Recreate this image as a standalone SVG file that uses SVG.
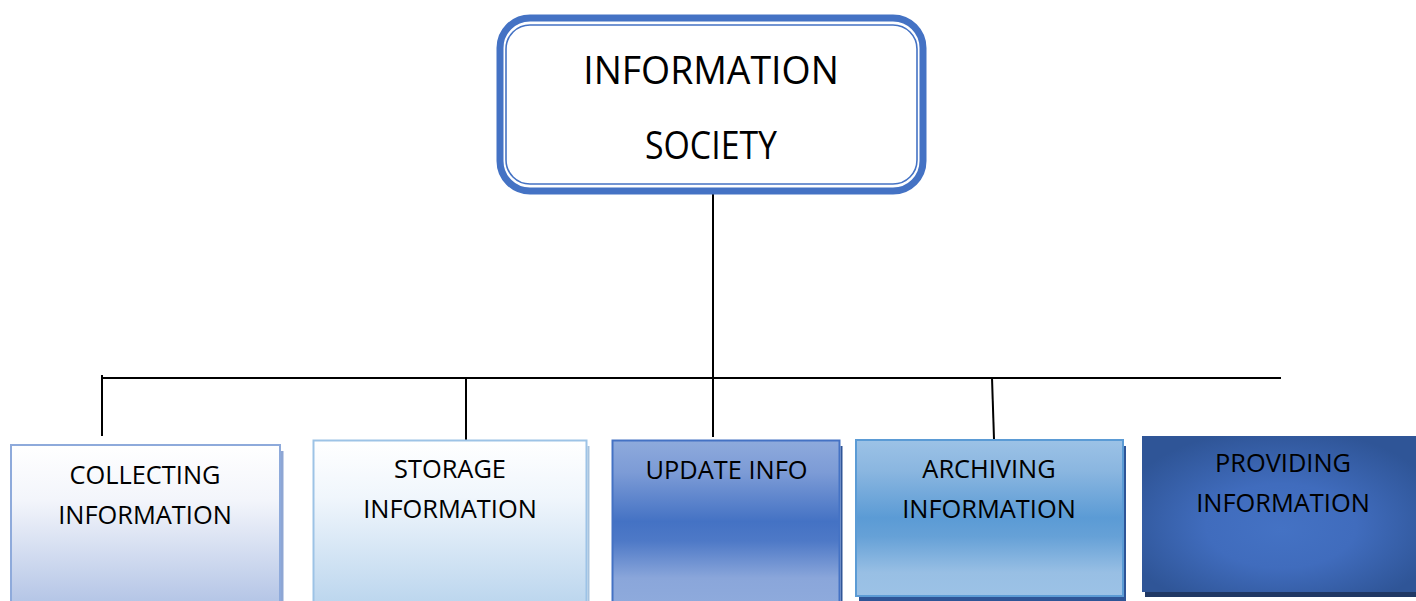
<svg xmlns="http://www.w3.org/2000/svg" width="1416" height="601" viewBox="0 0 1416 601">
  <defs>
    <linearGradient id="gCollect" x1="0" y1="0" x2="0" y2="1">
      <stop offset="0" stop-color="#ffffff"/>
      <stop offset="0.35" stop-color="#f3f5fb"/>
      <stop offset="1" stop-color="#b4c5e6"/>
    </linearGradient>
    <linearGradient id="gStorage" x1="0" y1="0" x2="0" y2="1">
      <stop offset="0" stop-color="#ffffff"/>
      <stop offset="0.35" stop-color="#f0f6fc"/>
      <stop offset="1" stop-color="#bcd6ee"/>
    </linearGradient>
    <linearGradient id="gUpdate" x1="0" y1="0" x2="0" y2="1">
      <stop offset="0" stop-color="#8eaadc"/>
      <stop offset="0.2" stop-color="#7c9bd6"/>
      <stop offset="0.5" stop-color="#4472c4"/>
      <stop offset="0.62" stop-color="#4e79c7"/>
      <stop offset="0.85" stop-color="#8aa6da"/>
      <stop offset="1" stop-color="#8eaadc"/>
    </linearGradient>
    <linearGradient id="gArchive" x1="0" y1="0" x2="0" y2="1">
      <stop offset="0" stop-color="#9cc2e6"/>
      <stop offset="0.2" stop-color="#8ab6e0"/>
      <stop offset="0.5" stop-color="#5b9bd5"/>
      <stop offset="0.62" stop-color="#66a1d7"/>
      <stop offset="0.85" stop-color="#98bfe4"/>
      <stop offset="1" stop-color="#9cc2e6"/>
    </linearGradient>
    <radialGradient id="gProvide" cx="0.5" cy="0.55" r="0.6" fx="0.5" fy="0.6">
      <stop offset="0" stop-color="#4472c4"/>
      <stop offset="0.45" stop-color="#406cbd"/>
      <stop offset="1" stop-color="#2f5597"/>
    </radialGradient>
  </defs>
  <style>
    .label { font-family: "Open Sans", "Liberation Sans", sans-serif; fill: #000000; text-anchor: middle; }
    .big { font-size: 37.4px; }
    .small { font-size: 25.4px; }
    .wire { stroke: #000000; stroke-width: 2; fill: none; }
  </style>

  <!-- connectors -->
  <g id="connectors">
    <line class="wire" x1="713" y1="192" x2="713" y2="437"/>
    <line class="wire" x1="102" y1="378" x2="1281" y2="378"/>
    <line class="wire" x1="102" y1="375" x2="102" y2="436"/>
    <line class="wire" x1="466" y1="378" x2="466" y2="440"/>
    <line class="wire" x1="992" y1="378" x2="994" y2="439"/>
  </g>

  <!-- root node -->
  <g id="node-information-society">
    <rect x="500" y="18" width="423" height="173" rx="30" ry="30" fill="#ffffff" stroke="#4472c4" stroke-width="7"/>
    <rect x="506" y="25" width="411" height="159" rx="24" ry="24" fill="none" stroke="#4472c4" stroke-width="1.6"/>
    <text class="label big" x="711" y="84">INFORMATION</text>
    <text class="label big" x="711" y="159" textLength="132" lengthAdjust="spacingAndGlyphs">SOCIETY</text>
  </g>

  <!-- child nodes -->
  <g id="node-collecting">
    <rect x="281" y="451" width="2.5" height="152" fill="#8ea6d4"/>
    <rect x="11" y="445" width="269" height="158" fill="url(#gCollect)" stroke="#8eaadb" stroke-width="2"/>
    <text class="label small" x="145" y="484">COLLECTING</text>
    <text class="label small" x="145" y="524">INFORMATION</text>
  </g>

  <g id="node-storage">
    <rect x="587.5" y="446" width="2" height="157" fill="#a8c3de"/>
    <rect x="313.5" y="440.5" width="273" height="162" fill="url(#gStorage)" stroke="#9dc3e6" stroke-width="2"/>
    <text class="label small" x="450" y="478">STORAGE</text>
    <text class="label small" x="450" y="518">INFORMATION</text>
  </g>

  <g id="node-update">
    <rect x="840.5" y="446" width="2" height="157" fill="#2f5597"/>
    <rect x="612.5" y="440.5" width="227" height="162" fill="url(#gUpdate)" stroke="#4472c4" stroke-width="2"/>
    <text class="label small" x="726.5" y="479">UPDATE INFO</text>
  </g>

  <g id="node-archiving">
    <rect x="859" y="446" width="267" height="155" fill="#2e5597"/>
    <rect x="856" y="440" width="267" height="156" fill="url(#gArchive)" stroke="#5b9bd5" stroke-width="2"/>
    <text class="label small" x="989" y="478">ARCHIVING</text>
    <text class="label small" x="989" y="518">INFORMATION</text>
  </g>

  <g id="node-providing">
    <rect x="1145" y="440" width="275" height="157" fill="#203864"/>
    <rect x="1142" y="436" width="278" height="156" fill="url(#gProvide)"/>
    <text class="label small" x="1283" y="472">PROVIDING</text>
    <text class="label small" x="1283" y="512">INFORMATION</text>
  </g>
</svg>
